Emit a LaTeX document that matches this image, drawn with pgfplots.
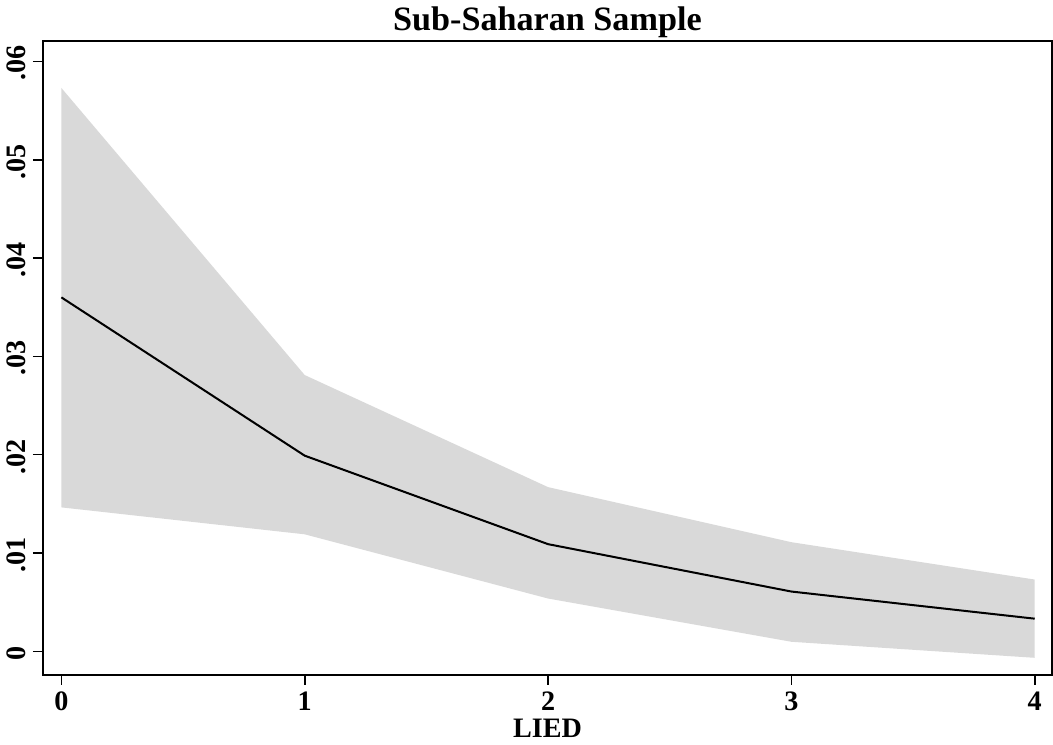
\documentclass[border=0pt]{standalone}
\usepackage{pgfplots}
\pgfplotsset{compat=1.18}
\usepackage{fontspec}
\setmainfont{Liberation Serif}
\definecolor{cifill}{HTML}{D9D9D9}

\begin{document}
\begin{tikzpicture}
\begin{axis}[
  scale only axis, width=502pt, height=315.5pt,
  xmin=-0.0756, xmax=4.071, ymin=-0.0024, ymax=0.0621,
  scaled y ticks=false,
  xtick={0,1,2,3,4},
  ytick={0,0.01,0.02,0.03,0.04,0.05,0.06},
  yticklabels={0,.01,.02,.03,.04,.05,.06},
  xticklabels={0,1,2,3,4},
  tick align=outside, tick pos=left, major tick length=5pt,
  axis line style={line width=1pt}, every tick/.style={black, line width=0.8pt},
  tick label style={font=\fontsize{14}{15}\selectfont\bfseries},
  yticklabel style={rotate=90, anchor=south, xshift=-1pt},
  xticklabel style={yshift=0pt},
  /pgf/number format/assume math mode=true,
  xlabel={\bfseries LIED}, xlabel style={font=\fontsize{14}{15}\selectfont, yshift=3pt},
  title={\bfseries Sub-Saharan Sample}, title style={font=\fontsize{17}{18}\selectfont, yshift=-8pt},
  clip=false,
]
  \addplot[fill=cifill, draw=none] coordinates {
    (0,0.0573) (1,0.0281) (2,0.0167) (3,0.0111) (4,0.0073)
    (4,-0.00066) (3,0.00097) (2,0.00537) (1,0.0119) (0,0.01464)
  } -- cycle;
  \addplot[black, line width=1pt] coordinates {
    (0,0.0360) (1,0.0199) (2,0.0109) (3,0.00608) (4,0.00332)
  };
\end{axis}
\end{tikzpicture}
\end{document}
